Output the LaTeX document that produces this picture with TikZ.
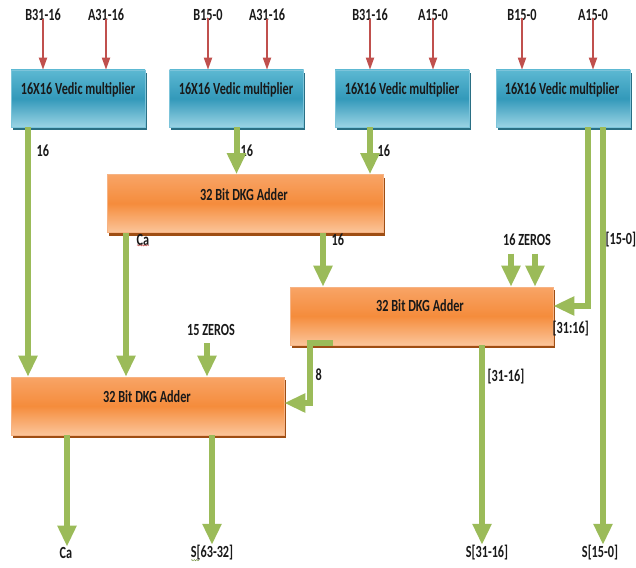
\documentclass[tikz,border=0pt]{standalone}
\usepackage{fontspec}
\setmainfont{Carlito}
\usetikzlibrary{arrows.meta,shadows,calc,decorations.pathmorphing}
\definecolor{gr}{HTML}{9BBB59}
\definecolor{rd}{HTML}{C0504D}
\definecolor{btop}{HTML}{5CB8D2}
\definecolor{bmid}{HTML}{3399BA}
\definecolor{bbot}{HTML}{9AD3E4}
\definecolor{bedge}{HTML}{7CC4DA}
\definecolor{bshadow}{HTML}{2A6F84}
\definecolor{otop}{HTML}{F8A466}
\definecolor{omid}{HTML}{F58C3C}
\definecolor{obot}{HTML}{FBC59A}
\definecolor{oedge}{HTML}{F6B384}
\definecolor{oshadow}{HTML}{9E4E14}
\newcommand{\sq}[1]{\scalebox{0.72}[1]{#1}}
\begin{document}
\begin{tikzpicture}[x=1pt,y=-1pt,
  mult/.style={rectangle, draw=bedge, line width=0.6pt, inner sep=0pt,
    minimum width=134pt, minimum height=57pt,
    top color=btop, bottom color=bbot, middle color=bmid,
    general shadow={fill=bshadow, shadow xshift=1.5pt, shadow yshift=-3pt}},
  adder/.style={rectangle, draw=oedge, line width=0.6pt, inner sep=0pt,
    minimum height=58pt,
    top color=otop, bottom color=obot, middle color=omid,
    general shadow={fill=oshadow, shadow xshift=1.5pt, shadow yshift=-3pt}},
  lbl/.style={font=\bfseries\fontsize{17}{20}\selectfont, text=black!90, inner sep=0.5pt},
  garr/.style={draw=gr, line width=6pt, -{Triangle[width=18pt,length=21pt]}},
  redarr/.style={draw=rd, line width=1.8pt, -{Triangle[width=8pt,length=12pt]}}]
\useasboundingbox[fill=white] (0,0) rectangle (636,567);

% column coordinates
\foreach \x in {28,67,126,207,212,310,323,333,370,482,511,535,588,603}
  {\coordinate (c\x) at (\x,0);}

% multipliers
\node[mult] (m1) at (78,98.5) {};
\node[mult] (m2) at (236.5,98.5) {};
\node[mult] (m3) at (402,98.5) {};
\node[mult] (m4) at (563,98.5) {};
\node[lbl] (m1t) at (78,90) {\sq{16X16 Vedic multiplier}};
\node[lbl] (m2t) at (236,90) {\sq{16X16 Vedic multiplier}};
\node[lbl] (m3t) at (402,90) {\sq{16X16 Vedic multiplier}};
\node[lbl] (m4t) at (562,90) {\sq{16X16 Vedic multiplier}};

% adders
\node[adder, minimum width=276pt] (a1) at (245,203.5) {};
\node[adder, minimum width=263pt] (a2) at (421.5,316) {};
\node[adder, minimum width=273pt] (a3) at (147.5,406) {};
\node[lbl] (a1t) at (244,195) {\sq{32 Bit DKG Adder}};
\node[lbl] (a2t) at (420,306) {\sq{32 Bit DKG Adder}};
\node[lbl] (a3t) at (147,397) {\sq{32 Bit DKG Adder}};

% inputs
\node[lbl] (i1) at (43,15) {\sq{B31-16}};
\node[lbl] (i2) at (106,15) {\sq{A31-16}};
\node[lbl] (i3) at (208,15) {\sq{B15-0}};
\node[lbl] (i4) at (267,15) {\sq{A31-16}};
\node[lbl] (i5) at (370,15) {\sq{B31-16}};
\node[lbl] (i6) at (433,15) {\sq{A15-0}};
\node[lbl] (i7) at (522,15) {\sq{B15-0}};
\node[lbl] (i8) at (593,15) {\sq{A15-0}};
\draw[redarr] ([yshift=3pt]i1.south) -- (i1.south |- m1.north);
\draw[redarr] ([yshift=3pt]i2.south) -- (i2.south |- m1.north);
\draw[redarr] ([yshift=3pt]i3.south) -- (i3.south |- m2.north);
\draw[redarr] ([yshift=3pt]i4.south) -- (i4.south |- m2.north);
\draw[redarr] ([yshift=3pt]i5.south) -- (i5.south |- m3.north);
\draw[redarr] ([yshift=3pt]i6.south) -- (i6.south |- m3.north);
\draw[redarr] ([yshift=3pt]i7.south) -- (i7.south |- m4.north);
\draw[redarr] ([yshift=3pt]i8.south) -- (i8.south |- m4.north);

% labels
\node[lbl, anchor=west] (l1) at (36,151) {\sq{16}};
\node[lbl, anchor=west] (l2) at (240,151) {\sq{16}};
\node[lbl, anchor=west] (l3) at (377,151) {\sq{16}};
\node[lbl, anchor=west] (l4) at (136,240) {\sq{Ca}};
\node[lbl, anchor=west] (l5) at (331,240) {\sq{16}};
\node[lbl] (nz16) at (527,240) {\sq{16 ZEROS}};
\node[lbl, anchor=west] (l6) at (605,240) {\sq{[15-0]}};
\node[lbl, anchor=west] (l7) at (552,329) {\sq{[31:16]}};
\node[lbl] (nz15) at (211,330) {\sq{15 ZEROS}};
\node[lbl, anchor=west] (l8) at (315,375) {\sq{8}};
\node[lbl, anchor=west] (l9) at (487,377) {\sq{[31-16]}};
\node[lbl] (o1) at (66,553) {\sq{Ca}};
\node[lbl] (o2) at (212,553) {\sq{S[63-32]}};
\node[lbl] (o3) at (487,553) {\sq{S[31-16]}};
\node[lbl] (o4) at (600,553) {\sq{S[15-0]}};
\draw[rd, line width=0.5pt, decorate, decoration={snake, amplitude=0.6pt, segment length=2.4pt}]
  ([xshift=1pt,yshift=1pt]l4.south west) -- ([xshift=-1pt,yshift=1pt]l4.south east);
\draw[gr!80!black, line width=0.5pt, decorate, decoration={snake, amplitude=0.6pt, segment length=2.4pt}]
  ([xshift=1pt,yshift=1pt]o2.south west) -- ([xshift=9pt,yshift=1pt]o2.south west);

% green connectors
\draw[garr] (m1.south -| c28) -- (a3.north -| c28);
\draw[garr] (m2.south) -- (m2.south |- a1.north);
\draw[garr] (m3.south -| c370) -- (a1.north -| c370);
\draw[garr] (a1.south -| c126) -- (a3.north -| c126);
\draw[garr] (a1.south -| c323) -- (a2.north -| c323);
\draw[garr] ($(nz16.south -| c511)+(0,7)$) -- (a2.north -| c511);
\draw[garr] ($(nz16.south -| c535)+(0,7)$) -- (a2.north -| c535);
\draw[garr] (m4.south -| c588) |- ([yshift=10pt]a2.east);
\draw[garr] (m4.south -| c603) -- (o4.north -| c603);
\draw[garr] (a2.south -| c482) -- (o3.north -| c482);
\draw[garr] ($(a2.south -| c333)+(0,-2)$) -| ($(c310 |- a3.east)+(0,-3)$) -- ($(a3.east)+(0,-3)$);
\draw[garr] ($(nz15.south -| c207)+(0,7)$) -- (a3.north -| c207);
\draw[garr] (a3.south -| c67) -- (o1.north -| c67);
\draw[garr] (a3.south -| c212) -- (o2.north -| c212);
\end{tikzpicture}
\end{document}
